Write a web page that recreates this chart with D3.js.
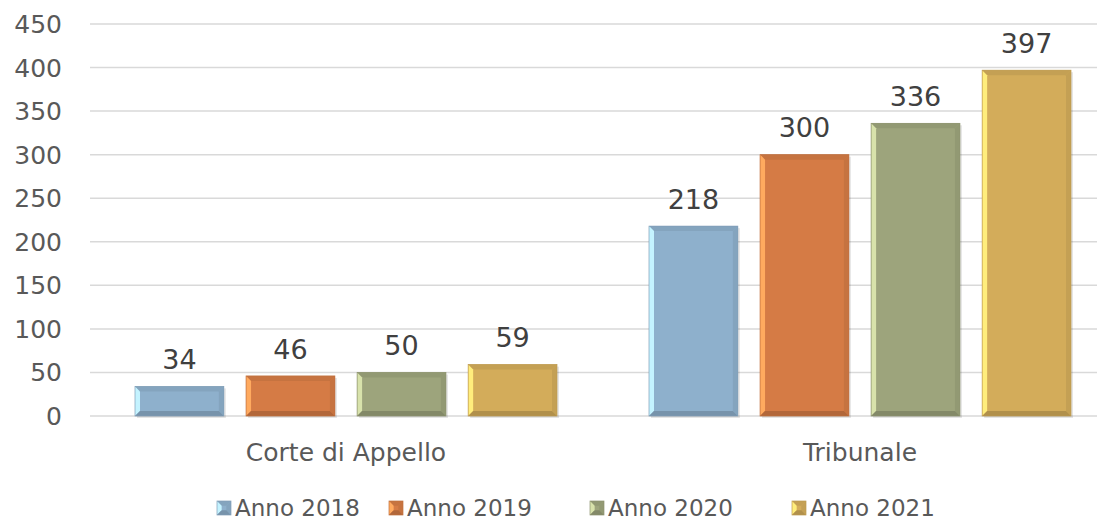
<!DOCTYPE html>
<html>
<head>
<meta charset="utf-8">
<script src="https://cdn.jsdelivr.net/npm/d3@7"></script>
<style>
  body { margin: 0; background: #fff; }
  svg { display: block; font-family: "DejaVu Sans", sans-serif; }
</style>
</head>
<body>
<svg id="chart" width="1101" height="522"></svg>
<script>
// Data
const categories = ["Corte di Appello", "Tribunale"];
const series = ["Anno 2018", "Anno 2019", "Anno 2020", "Anno 2021"];
const values = {
    "Anno 2018": [34, 218],
    "Anno 2019": [46, 300],
    "Anno 2020": [50, 336],
    "Anno 2021": [59, 397]
};
const yTicks = [0, 50, 100, 150, 200, 250, 300, 350, 400, 450];
const colors = ["#8EB0CC", "#D57B45", "#9DA47C", "#D3AC5A"];

const svg = d3.select("#chart");
const textColor = "#595959";

// Scales
const y = d3.scaleLinear().domain([0, 450]).range([416, 24]);
const x0 = d3.scaleBand().domain(categories).range([89, 1117]).padding(0);
const x1 = d3.scaleBand().domain(series).range([46, x0.bandwidth() - 46]).paddingInner(0.2);

// Gridlines
svg.append("g")
    .selectAll("line")
    .data(yTicks)
    .join("line")
    .attr("x1", 90).attr("x2", 1097)
    .attr("y1", d => y(d)).attr("y2", d => y(d))
    .attr("stroke", "#d9d9d9")
    .attr("stroke-width", 1.5);

// Y axis labels
svg.append("g")
    .selectAll("text")
    .data(yTicks)
    .join("text")
    .attr("x", 62)
    .attr("y", d => y(d))
    .attr("dy", "0.36em")
    .attr("text-anchor", "end")
    .attr("fill", textColor)
    .attr("font-size", 25)
    .text(d => d);

// Bevelled bar
function bevel(g, x, yTop, w, h, color, shadow) {
    const b = Math.min(5, h / 3);
    const c = d3.color(color);
    if (shadow) {
        g.append("rect")
            .attr("x", x + 2).attr("y", yTop + 2).attr("width", w).attr("height", h)
            .attr("fill", "#000").attr("opacity", 0.1);
    }
    g.append("rect")
        .attr("x", x).attr("y", yTop).attr("width", w).attr("height", h)
        .attr("fill", color);
    const x2 = x + w, y2 = yTop + h;
    // top
    g.append("path").attr("d", `M${x},${yTop}L${x2},${yTop}L${x2 - b},${yTop + b}L${x + b},${yTop + b}Z`)
        .attr("fill", c.darker(0.2));
    // left
    g.append("path").attr("d", `M${x},${yTop}L${x + b},${yTop + b}L${x + b},${y2 - b}L${x},${y2}Z`)
        .attr("fill", c.brighter(0.9));
    // right
    g.append("path").attr("d", `M${x2},${yTop}L${x2},${y2}L${x2 - b},${y2 - b}L${x2 - b},${yTop + b}Z`)
        .attr("fill", c.darker(0.2));
    // bottom
    g.append("path").attr("d", `M${x},${y2}L${x2},${y2}L${x2 - b},${y2 - b}L${x + b},${y2 - b}Z`)
        .attr("fill", c.darker(0.5));
    g.append("rect")
        .attr("x", x).attr("y", yTop).attr("width", w).attr("height", h)
        .attr("fill", "none").attr("stroke", c.darker(0.3)).attr("stroke-width", 0.7);
}

// Bars
const gBars = svg.append("g");
categories.forEach((cat, ci) => {
    series.forEach((s, si) => {
        const v = values[s][ci];
        const bx = x0(cat) + x1(s);
        const by = y(v);
        const bh = y(0) - by;
        bevel(gBars, bx, by, x1.bandwidth(), bh, colors[si], true);
        gBars.append("text")
            .attr("x", bx + x1.bandwidth() / 2)
            .attr("y", by - 27)
            .attr("text-anchor", "middle")
            .attr("fill", "#404040")
            .attr("font-size", 27)
            .attr("dy", "0.36em")
            .text(v);
    });
});

// Category labels
svg.append("g")
    .selectAll("text")
    .data(categories)
    .join("text")
    .attr("x", d => x0(d) + x0.bandwidth() / 2)
    .attr("y", 452)
    .attr("dy", "0.36em")
    .attr("text-anchor", "middle")
    .attr("fill", textColor)
    .attr("font-size", 25)
    .text(d => d);

// Legend
const legendX = [217, 389, 590, 792];
const gLeg = svg.append("g");
series.forEach((s, i) => {
    const lg = gLeg.append("g").attr("transform", `translate(${legendX[i]},501)`);
    bevel(lg, 0, 0, 14, 14, colors[i], false);
    lg.append("text")
        .attr("x", 18).attr("y", 7)
        .attr("dy", "0.36em")
        .attr("fill", textColor)
        .attr("font-size", 23)
        .text(s);
});
</script>
</body>
</html>
